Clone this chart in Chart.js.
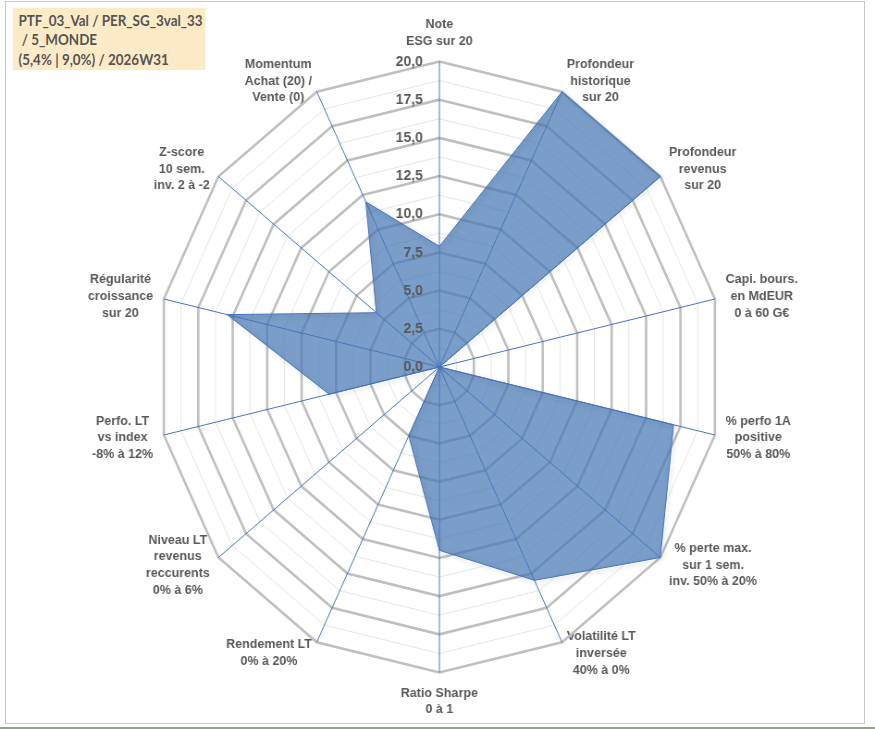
<!DOCTYPE html>
<html>
<head>
<meta charset="utf-8">
<script src="https://cdn.jsdelivr.net/npm/chart.js@4.4.1/dist/chart.umd.min.js"></script>
<style>
  html, body { margin: 0; padding: 0; background: #fff; }
  body { width: 875px; height: 729px; position: relative; overflow: hidden; }
  #frame { position: absolute; left: 5px; top: 1px; width: 858px; height: 721px; border: 1px solid #c8c8c8; }
  #bottomline { position: absolute; left: 0; top: 727px; width: 875px; height: 2px; background: #8aa88a; }
  /* the source picture is squeezed horizontally, so the whole chart is drawn wider and scaled back */
  #stage { position: absolute; left: 0; top: 0; width: 946px; height: 729px; transform: scaleX(0.925); transform-origin: 0 0; }
  #title { position: absolute; left: 14px; top: 8px; width: 202px; height: 59px; padding: 3px 0 0 6px;
    background: #fdebc8; color: #555555; font: bold 14.5px Lato, "Open Sans", sans-serif; line-height: 19.3px; white-space: pre; }
  #chart { position: absolute; left: 0; top: 0; width: 946px; height: 729px; }
</style>
</head>
<body>
<div id="frame"></div>
<div id="bottomline"></div>
<div id="stage">
  <div id="chart"><canvas id="radar"></canvas></div>
  <div id="title">PTF_03_Val / PER_SG_3val_33
 / 5_MONDE
(5,4% | 9,0%) / 2026W31</div>
</div>
<script>
// axes of the radar, clockwise from the top
const axisLabels = [
    ["Note", "ESG sur 20"],
    ["Profondeur", "historique", "sur 20"],
    ["Profondeur", "revenus", "sur 20"],
    ["Capi. bours.", "en MdEUR", "0 à 60 G€"],
    ["% perfo 1A", "positive", "50% à 80%"],
    ["% perte max.", "sur 1 sem.", "inv. 50% à 20%"],
    ["Volatilité LT", "inversée", "40% à 0%"],
    ["Ratio Sharpe", "0 à 1"],
    ["Rendement LT", "0% à 20%"],
    ["Niveau LT", "revenus", "reccurents", "0% à 6%"],
    ["Perfo. LT", "vs index", "-8% à 12%"],
    ["Régularité", "croissance", "sur 20"],
    ["Z-score", "10 sem.", "inv. 2 à -2"],
    ["Momentum", "Achat (20) /", "Vente (0)"]
]
const scoreValues = [7.9, 20, 20, 0, 17, 20, 15.5, 12, 5, 0, 8, 15.4, 5.7, 12]
const scaleMin = 0
const scaleMax = 20
const gridStep = 1.25
const labelStep = 2.5

const textGrey = "#595959"
const axisBlue = "#4472c4"

const isMajor = (v) => Math.abs(v / labelStep - Math.round(v / labelStep)) < 1e-6
const formatTick = (v) => v.toFixed(1).replace(".", ",")

// Excel centres the side labels on their spoke (lines centred too), chart.js puts them above / below
const centerPointLabels = {
    id: "centerPointLabels",
    beforeDraw(chart){
        const r = chart.scales.r
        const items = r._pointLabelItems || []
        items.forEach((item, i) => {
            if (item._moved || item.textAlign === "center") return
            const h = item.bottom - item.top
            const pos = r.getPointPosition(i, r.drawingArea + 12)
            item.y = pos.y - h / 2
            item.top = item.y
            item.bottom = item.y + h
            item.x = (item.left + item.right) / 2
            item.textAlign = "center"
            item._moved = true
        })
    }
}

// tick values written left of the first spoke, on top of the filled area
const tickText = {
    id: "tickText",
    afterDatasetsDraw(chart){
        const r = chart.scales.r
        const ctx = chart.ctx
        ctx.save()
        ctx.font = "bold 15px 'Liberation Sans', Arial, sans-serif"
        ctx.fillStyle = textGrey
        ctx.textAlign = "right"
        ctx.textBaseline = "middle"
        r.ticks.forEach(tick => {
            if (!isMajor(tick.value)) return
            const y = r.yCenter - r.getDistanceFromCenterForValue(tick.value)
            ctx.fillText(formatTick(tick.value), r.xCenter - 18, y)
        })
        ctx.restore()
    }
}

const softShadow = {
    id: "softShadow",
    beforeDatasetDraw(chart){
        const ctx = chart.ctx
        ctx.save()
        ctx.shadowColor = "rgba(0,0,0,0.28)"
        ctx.shadowBlur = 5
        ctx.shadowOffsetX = 2
        ctx.shadowOffsetY = 2
    },
    afterDatasetDraw(chart){
        chart.ctx.restore()
    }
}

const config = {
    type: "radar",
    data: {
        labels: axisLabels,
        datasets: [{
            data: scoreValues,
            backgroundColor: "rgba(70,120,180,0.72)",
            borderColor: axisBlue,
            borderWidth: 1,
            pointRadius: 0,
            fill: true
        }]
    },
    options: {
        responsive: true,
        maintainAspectRatio: false,
        animation: false,
        layout: { padding: { top: 16, bottom: 10, left: 5, right: 0 } },
        plugins: {
            legend: { display: false },
            tooltip: { enabled: false }
        },
        scales: {
            r: {
                min: scaleMin,
                max: scaleMax,
                ticks: {
                    display: false,
                    stepSize: gridStep,
                    callback: (v) => isMajor(v) ? formatTick(v) : ""
                },
                grid: {
                    circular: false,
                    color: (c) => c.tick && isMajor(c.tick.value) ? "#bfbfbf" : "#e6e6e6",
                    lineWidth: (c) => c.tick && isMajor(c.tick.value) ? 2.6 : 1
                },
                angleLines: {
                    color: axisBlue,
                    lineWidth: 1
                },
                pointLabels: {
                    padding: 12,
                    color: textGrey,
                    font: { family: "'Liberation Sans', Arial, sans-serif", size: 13.5, weight: "bold", lineHeight: 1.24 }
                }
            }
        }
    },
    plugins: [centerPointLabels, softShadow, tickText]
}

new Chart(document.getElementById("radar"), config)
</script>
</body>
</html>
